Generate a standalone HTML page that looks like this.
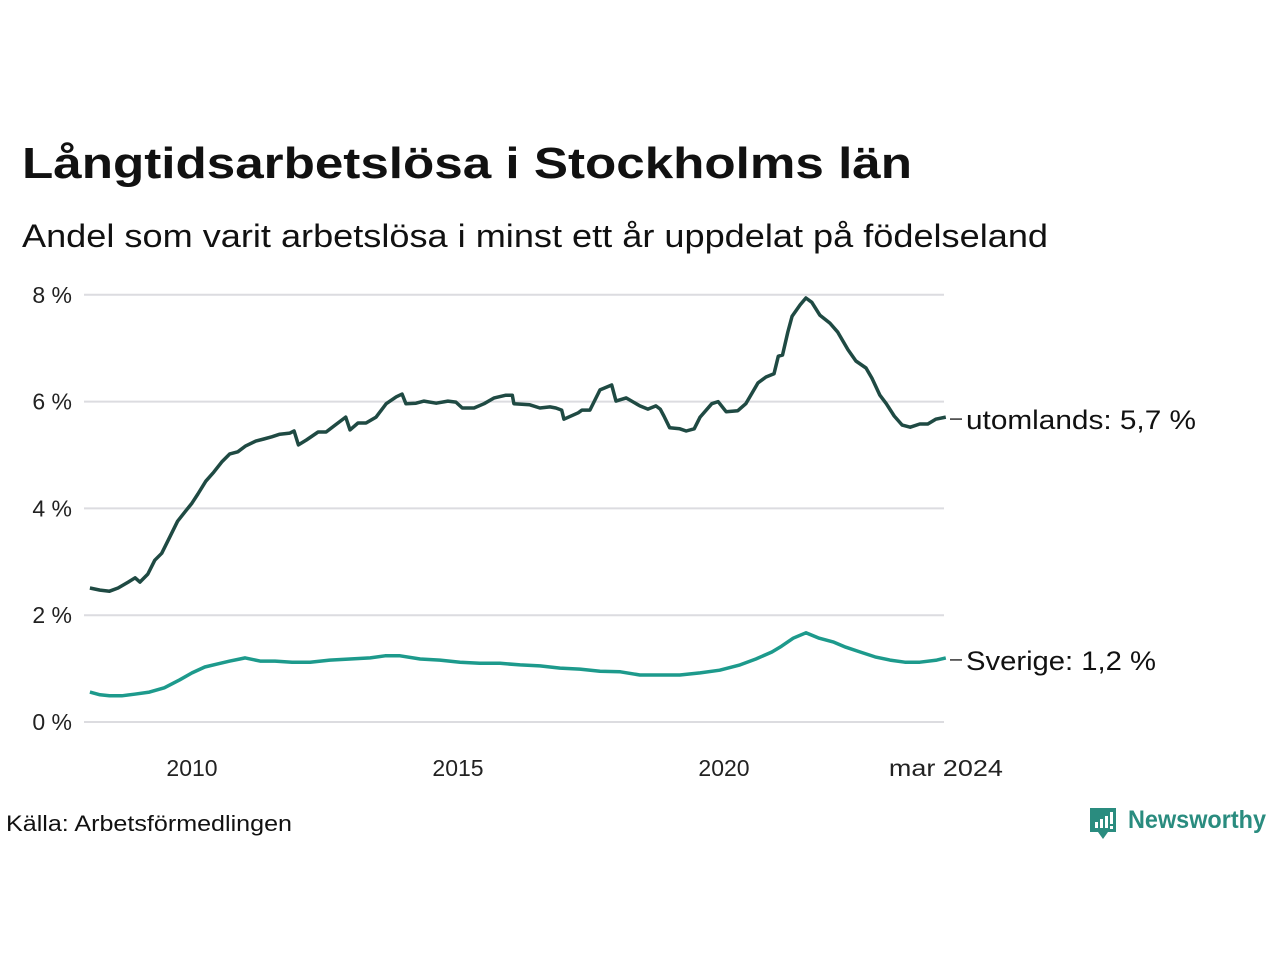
<!DOCTYPE html>
<html><head><meta charset="utf-8"><style>
html,body{margin:0;padding:0;background:#fff;}
svg{display:block;font-family:"Liberation Sans",sans-serif;}
</style></head><body>
<svg id="chart" width="1280" height="960" viewBox="0 0 1280 960">
<text x="22" y="178" font-size="44" font-weight="bold" fill="#111" textLength="890" lengthAdjust="spacingAndGlyphs">Långtidsarbetslösa i Stockholms län</text>
<text x="22" y="247" font-size="32" fill="#111" textLength="1026" lengthAdjust="spacingAndGlyphs">Andel som varit arbetslösa i minst ett år uppdelat på födelseland</text>
<g id="grid"></g>
<g id="yticks"></g>
<g id="xticks"></g>
<g id="lines"></g>
<g id="labels"></g>
<text x="6" y="831" font-size="22" fill="#111" textLength="286" lengthAdjust="spacingAndGlyphs">Källa: Arbetsförmedlingen</text>
<g>
<path d="M1090 808 h26 v24 h-8 l-5 7 l-5 -7 h-8 z" fill="#2a8c7f"/>
<rect x="1095" y="822" width="3" height="6" fill="#fff"/><rect x="1100" y="819" width="3" height="9" fill="#fff"/><rect x="1105" y="816" width="3" height="12" fill="#fff"/><rect x="1110" y="812" width="3" height="12" fill="#fff"/><rect x="1110" y="826" width="3" height="3" fill="#fff"/>
<text x="1128" y="828" font-size="25" font-weight="bold" fill="#2a8c7f" textLength="138" lengthAdjust="spacingAndGlyphs">Newsworthy</text>
</g>
</svg>
<script>
const NS="http://www.w3.org/2000/svg";
const yTicks=[0,2,4,6,8];
const xTickYears=[2010,2015,2020,2024.17];
const xTickLabels=["2010","2015","2020","mar 2024"];
const utomDates=[2008.08,2008.27,2008.45,2008.61,2008.8,2008.93,2009.02,2009.17,2009.3,2009.43,2009.58,2009.73,2009.88,2010,2010.11,2010.26,2010.41,2010.56,2010.71,2010.86,2011.01,2011.2,2011.35,2011.5,2011.65,2011.84,2011.92,2012,2012.15,2012.37,2012.52,2012.69,2012.89,2012.97,2013.12,2013.27,2013.46,2013.65,2013.84,2013.95,2014.02,2014.21,2014.36,2014.59,2014.81,2014.96,2015.08,2015.3,2015.49,2015.68,2015.9,2016.02,2016.05,2016.35,2016.54,2016.73,2016.84,2016.95,2016.99,2017.26,2017.33,2017.48,2017.67,2017.89,2017.97,2018.16,2018.42,2018.57,2018.72,2018.8,2018.87,2018.98,2019.17,2019.29,2019.44,2019.55,2019.77,2019.89,2020.04,2020.26,2020.41,2020.64,2020.79,2020.94,2021.02,2021.1,2021.2,2021.28,2021.43,2021.54,2021.65,2021.8,2021.99,2022.14,2022.33,2022.48,2022.67,2022.78,2022.93,2023.05,2023.2,2023.35,2023.5,2023.68,2023.83,2023.98,2024.17];
const utomValues=[2.51,2.47,2.45,2.51,2.62,2.70,2.62,2.77,3.03,3.16,3.46,3.76,3.95,4.10,4.27,4.51,4.68,4.87,5.02,5.06,5.17,5.26,5.30,5.34,5.39,5.41,5.45,5.19,5.28,5.43,5.43,5.56,5.71,5.47,5.60,5.60,5.71,5.96,6.09,6.14,5.96,5.97,6.01,5.97,6.01,5.99,5.88,5.88,5.96,6.07,6.12,6.12,5.96,5.94,5.88,5.90,5.88,5.84,5.67,5.79,5.84,5.84,6.22,6.31,6.01,6.07,5.92,5.86,5.92,5.86,5.73,5.51,5.49,5.45,5.49,5.71,5.96,6.0,5.81,5.83,5.96,6.35,6.46,6.52,6.85,6.87,7.30,7.60,7.81,7.94,7.86,7.62,7.47,7.30,6.97,6.76,6.63,6.44,6.12,5.96,5.73,5.56,5.52,5.58,5.58,5.67,5.71];
const sveDates=[2008.08,2008.27,2008.45,2008.68,2008.92,2009.2,2009.48,2009.77,2010,2010.24,2010.49,2010.71,2010.9,2011,2011.28,2011.56,2011.88,2012.22,2012.59,2012.97,2013.35,2013.63,2013.91,2014.29,2014.66,2015.04,2015.41,2015.79,2016.17,2016.54,2016.92,2017.29,2017.67,2018.05,2018.42,2018.8,2019.17,2019.55,2019.92,2020.3,2020.6,2020.9,2021.08,2021.3,2021.54,2021.79,2022.05,2022.29,2022.56,2022.84,2023.12,2023.4,2023.68,2024.0,2024.17];
const sveValues=[0.56,0.51,0.49,0.49,0.52,0.56,0.64,0.79,0.92,1.03,1.09,1.14,1.18,1.20,1.14,1.14,1.12,1.12,1.16,1.18,1.20,1.24,1.24,1.18,1.16,1.12,1.10,1.10,1.07,1.05,1.01,0.99,0.95,0.94,0.88,0.88,0.88,0.92,0.97,1.07,1.18,1.31,1.42,1.57,1.67,1.57,1.50,1.40,1.31,1.22,1.16,1.12,1.12,1.16,1.20];
const xs=y=>192+(y-2010)*53.2;
const ys=v=>722-v*53.4;
function el(t,a,p){const e=document.createElementNS(NS,t);for(const k in a)e.setAttribute(k,a[k]);document.getElementById(p).appendChild(e);return e;}
yTicks.forEach(v=>{
  const l=el('line',{x1:84,x2:944,y1:ys(v),y2:ys(v),stroke:'#dcdce0','stroke-width':2},'grid');
  
  
  const t=el('text',{x:72,y:ys(v)+8,'font-size':23,fill:'#222','text-anchor':'end'},'yticks');
  t.textContent=v+' %';
  
  
});
xTickYears.forEach((y,i)=>{
  const t=el('text',{x:xs(y),y:776,'font-size':23,fill:'#222','text-anchor':'middle'},'xticks');
  if(i===3){t.setAttribute('textLength',114);t.setAttribute('lengthAdjust','spacingAndGlyphs');}
  t.textContent=xTickLabels[i];
  
  
});
function line(d,v,c,name){
  const pts=d.map((x,i)=>xs(x).toFixed(1)+','+ys(v[i]).toFixed(1)).join(' ');
  const p=el('polyline',{points:pts,fill:'none',stroke:c,'stroke-width':3.5,'stroke-linejoin':'round'},'lines');
  
  
}
line(sveDates,sveValues,'#1d9a8c','line-sverige');
line(utomDates,utomValues,'#1f4a43','line-utomlands');
function lab(v,txt,name,len){
  const y=ys(v)+2;
  el('line',{x1:950,x2:962,y1:y,y2:y,stroke:'#333','stroke-width':1.5},'labels');
  const t=el('text',{x:966,y:y+10,'font-size':27,fill:'#111',textLength:len,lengthAdjust:'spacingAndGlyphs'},'labels');
  t.textContent=txt;
  
  
}
lab(utomValues[utomValues.length-1],'utomlands: 5,7 %','label-utomlands',230);
lab(sveValues[sveValues.length-1],'Sverige: 1,2 %','label-sverige',190);
</script>
</body></html>
